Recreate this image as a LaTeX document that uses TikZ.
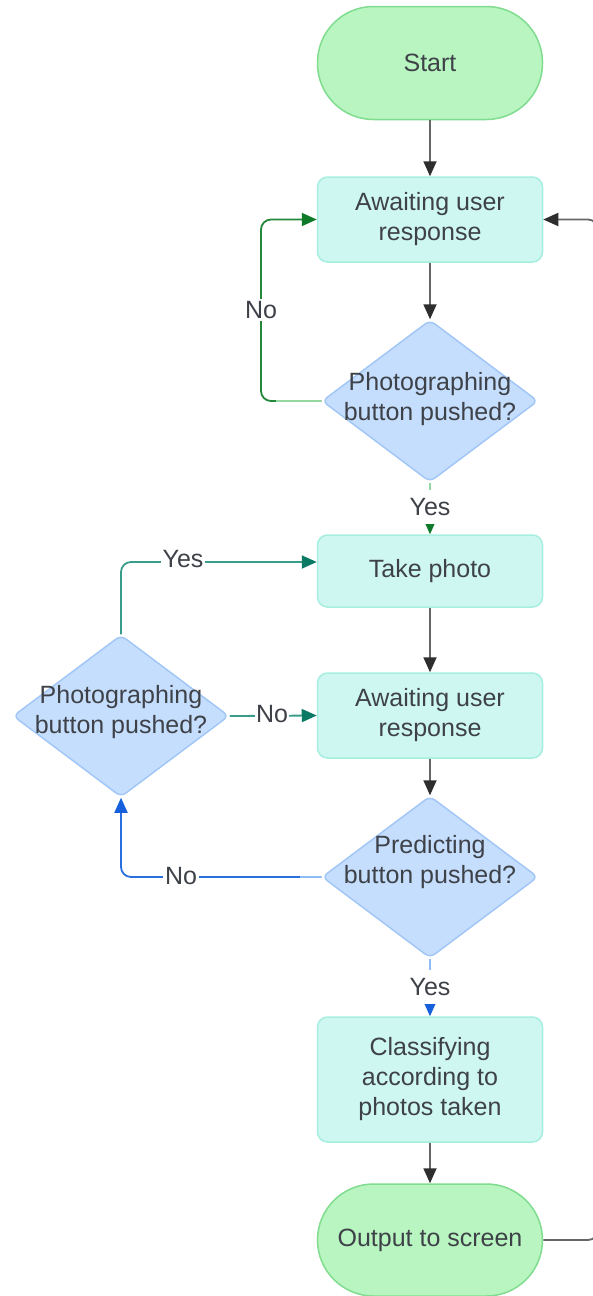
\documentclass[tikz,border=0pt]{standalone}
\usepackage{fontspec}
\setmainfont{Liberation Sans}
\usetikzlibrary{shapes.geometric,arrows.meta,calc}
\definecolor{termfill}{HTML}{B8F5C0}
\definecolor{termdraw}{HTML}{80DC8E}
\definecolor{procfill}{HTML}{CFF7F1}
\definecolor{procdraw}{HTML}{A6EEDF}
\definecolor{decfill}{HTML}{C5DEFD}
\definecolor{decdraw}{HTML}{A2C7F7}
\definecolor{txtc}{HTML}{3E4248}
\definecolor{arrgray}{HTML}{666666}
\definecolor{tipgray}{HTML}{2E2E2E}
\definecolor{gdark}{HTML}{24883A}
\definecolor{gtip}{HTML}{0E7A2A}
\definecolor{glight}{HTML}{94D7A0}
\definecolor{tealline}{HTML}{3A9C8A}
\definecolor{tealtip}{HTML}{0B7A64}
\definecolor{bdark}{HTML}{2A6FE0}
\definecolor{btip}{HTML}{1660DD}
\definecolor{blight}{HTML}{8FBCF5}
\begin{document}
\begin{tikzpicture}[x=1pt,y=-1pt,
  font=\fontsize{25}{30}\selectfont, text=txtc,
  term/.style={rectangle, rounded corners=56pt, draw=termdraw, fill=termfill, line width=1.5pt,
    minimum width=225pt, minimum height=113pt, align=center},
  proc/.style={rectangle, rounded corners=10pt, draw=procdraw, fill=procfill, line width=1.5pt,
    minimum width=225pt, align=center},
  dec/.style={diamond, draw=decdraw, fill=decfill, line width=1.5pt,
    minimum width=216pt, minimum height=162pt, inner sep=0pt, rounded corners=6pt},
  lbl/.style={align=center, text=txtc},
  edgelbl/.style={fill=white, inner sep=2pt, text=txtc},
  yeslbl/.style={fill=white, inner xsep=3pt, inner ysep=0pt, minimum height=34pt, text=txtc},
  flow/.style={draw=arrgray, line width=1.8pt, rounded corners=10pt,
    -{Triangle[length=15pt,width=13pt,color=tipgray]}},
  gflow/.style={draw=gdark, line width=1.8pt, rounded corners=10pt,
    -{Triangle[length=15pt,width=13pt,color=gtip]}},
  tflow/.style={draw=tealline, line width=1.8pt, rounded corners=10pt,
    -{Triangle[length=15pt,width=13pt,color=tealtip]}},
  bflow/.style={draw=bdark, line width=1.8pt, rounded corners=10pt,
    -{Triangle[length=15pt,width=13pt,color=btip]}},
]
\useasboundingbox (0,0) rectangle (593,1296);

% nodes
\node[term] (start) at (430,63) {Start};
\node[proc, minimum height=85pt] (aw1) at (430,219.5) {Awaiting user\\response};
\node[dec, label={[lbl,yshift=2pt]center:Photographing\\button pushed?}] (d1) at (430,401) {};
\node[proc, minimum height=72pt] (take) at (430,571) {Take photo};
\node[proc, minimum height=85pt] (aw2) at (430,715.5) {Awaiting user\\response};
\node[dec, label={[lbl,yshift=15pt]center:Predicting\\button pushed?}] (d2) at (430,877) {};
\node[dec, label={[lbl,yshift=4pt]center:Photographing\\button pushed?}] (d3) at (121,716) {};
\node[proc, minimum height=125pt] (cls) at (430,1079.5) {Classifying\\according to\\photos taken};
\node[term, minimum height=112pt] (out) at (430,1240) {Output to screen};

% helper coordinates
\coordinate (c1) at (261,219.5);
\coordinate (c1l) at (276,401);
\coordinate (tkin) at ($(take.west)+(0,-9)$);
\coordinate (c2l) at (300,877);
\coordinate (r1) at (598,1240);
\coordinate (r2) at (598,219.5);

% straight flows
\draw[flow] (start) -- (aw1);
\draw[flow] (aw1) -- (d1);
\draw[flow] (take) -- (aw2);
\draw[flow] (aw2) -- (d2);
\draw[flow] (cls) -- (out);

% loop back from output
\draw[flow] (out.east) -- (r1) -- (r2) -- (aw1.east);

% decision 1
\draw[gflow] (d1.west) -| (c1) -- (aw1.west);
\draw[draw=glight, line width=1.8pt] (d1.west) -- (c1l);
\node[edgelbl] (no1) at (261,310) {No};
\draw[draw=glight, line width=1.8pt, -{Triangle[length=15pt,width=13pt,color=gtip]}] (d1.south) -- (take.north);
\node[yeslbl] (yes1) at (430,507) {Yes};

% decision 3 (left)
\draw[tflow] (d3.north) |- (tkin);
\node[edgelbl] (yes3) at (183,559) {Yes};
\draw[tflow] (d3.east) -- (aw2.west);
\node[edgelbl, inner sep=1pt] (no3) at (272,714) {No};

% decision 2
\draw[bflow] (d2.west) -| (d3.south);
\draw[draw=blight, line width=1.8pt] (d2.west) -- (c2l);
\node[edgelbl] (no2) at (181,876) {No};
\draw[draw=blight, line width=1.8pt, -{Triangle[length=15pt,width=13pt,color=btip]}] (d2.south) -- (cls.north);
\node[yeslbl] (yes2) at (430,987) {Yes};
\end{tikzpicture}
\end{document}
